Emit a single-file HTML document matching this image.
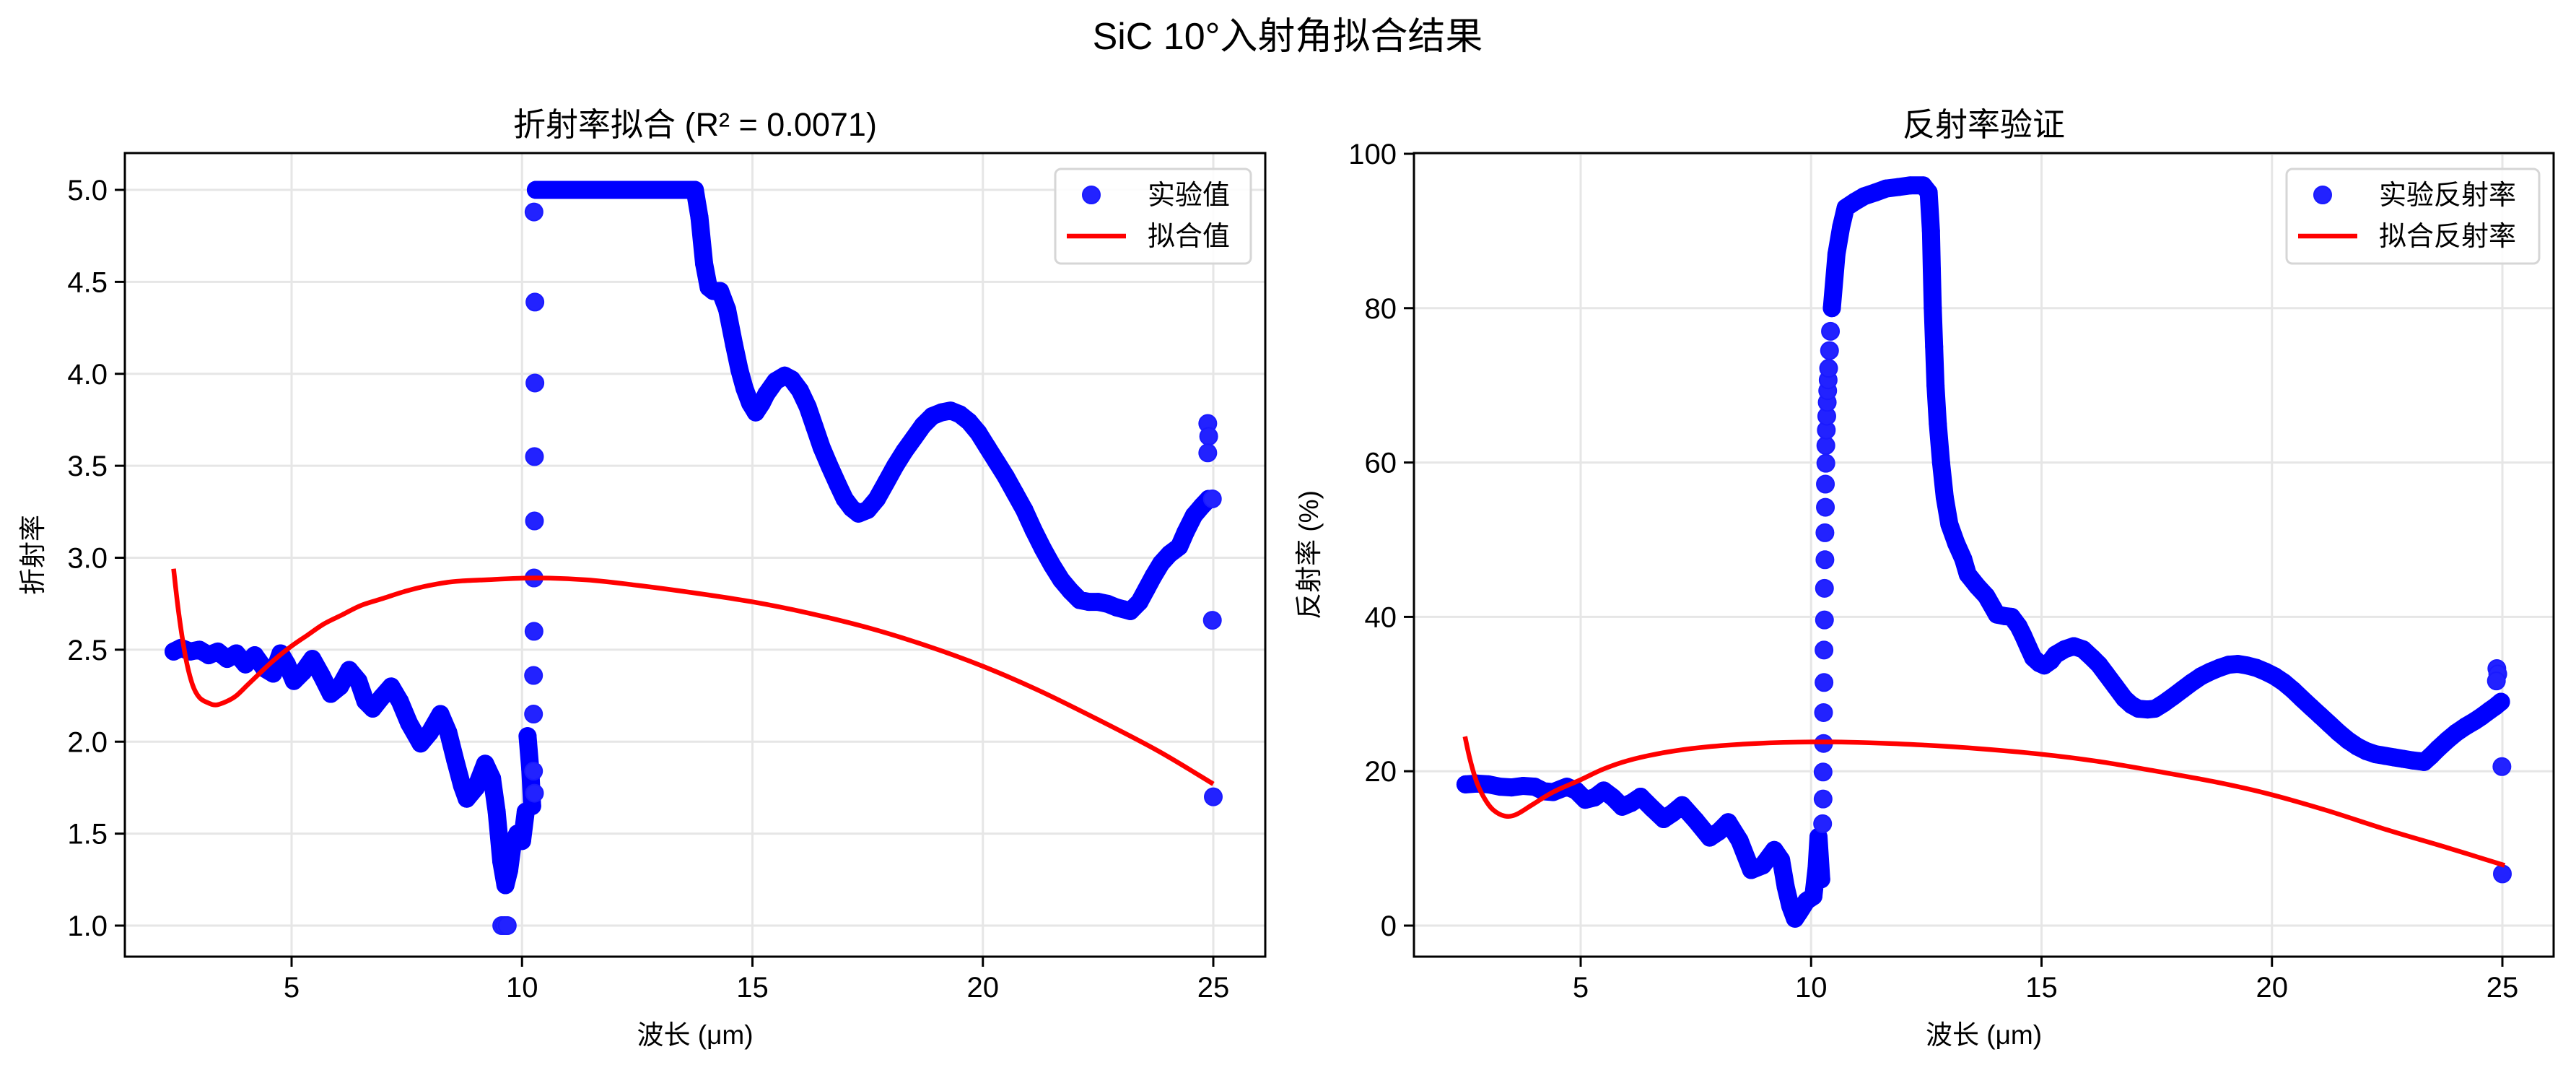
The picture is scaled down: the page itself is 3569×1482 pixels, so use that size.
<!DOCTYPE html>
<html><head><meta charset="utf-8">
<style>
html,body{margin:0;padding:0;background:#fff;}
svg{display:block;font-family:"Liberation Sans","Noto Sans CJK SC",sans-serif;}
</style></head>
<body>
<svg id="fig" xmlns="http://www.w3.org/2000/svg" width="3569" height="1482" viewBox="0 0 3569 1482">
<rect width="3569" height="1482" fill="#fff"/>
<text x="1784" y="68" font-size="52" text-anchor="middle">SiC 10°入射角拟合结果</text>
</svg>
<script>
// ---- Left chart data (refractive index) ----
const nExpX = [2.44,2.6,2.8,3.0,3.2,3.4,3.6,3.8,4.0,4.2,4.4,4.6,4.76,4.9,5.05,5.25,5.45,5.65,5.85,6.05,6.25,6.45,6.6,6.76,6.95,7.16,7.35,7.55,7.8,8.0,8.23,8.4,8.55,8.7,8.8,9.0,9.2,9.35,9.45,9.55,9.64,9.72,9.8,9.9,10.0,10.08,10.12,10.18,10.22,
10.3,10.6,10.9,11.2,11.5,11.8,12.1,12.4,12.7,13.0,13.3,13.6,13.75,13.85,13.95,14.05,14.15,14.3,14.45,14.6,14.72,14.83,14.95,15.07,15.2,15.3,15.5,15.7,15.85,16.03,16.2,16.35,16.5,16.67,16.85,17.0,17.15,17.3,17.5,17.7,17.9,18.1,18.3,18.5,18.7,18.9,19.1,19.3,19.5,19.7,19.9,20.1,20.3,20.5,20.7,20.9,21.1,21.3,21.5,21.7,21.9,22.1,22.3,22.5,22.7,22.9,23.05,23.2,23.4,23.55,23.7,23.87,24.05,24.26,24.4,24.58,24.75,24.9];
const nExpY = [2.49,2.51,2.49,2.50,2.47,2.49,2.45,2.48,2.42,2.47,2.40,2.37,2.48,2.42,2.33,2.38,2.45,2.36,2.26,2.30,2.39,2.33,2.22,2.18,2.24,2.30,2.22,2.10,1.99,2.05,2.15,2.05,1.90,1.76,1.69,1.75,1.88,1.80,1.62,1.35,1.22,1.30,1.45,1.50,1.46,1.62,2.03,1.85,1.65,
5.0,5.0,5.0,5.0,5.0,5.0,5.0,5.0,5.0,5.0,5.0,5.0,5.0,4.85,4.6,4.47,4.45,4.45,4.35,4.16,4.02,3.92,3.84,3.79,3.84,3.89,3.96,3.99,3.97,3.91,3.82,3.71,3.60,3.50,3.40,3.32,3.27,3.24,3.26,3.32,3.41,3.50,3.58,3.65,3.72,3.77,3.79,3.80,3.78,3.74,3.68,3.60,3.52,3.44,3.35,3.26,3.15,3.05,2.96,2.88,2.82,2.77,2.76,2.76,2.75,2.73,2.72,2.71,2.76,2.83,2.90,2.97,3.02,3.06,3.14,3.23,3.28,3.32];
const nIsoX = [9.56,9.62,9.68,10.25,10.25,10.25,10.26,10.26,10.27,10.27,10.28,10.28,10.26,10.27,24.88,24.9,24.88,24.98,24.98,25.0];
const nIsoY = [1.0,1.0,1.0,1.84,2.15,2.36,2.60,2.89,3.20,3.55,3.95,4.39,4.88,1.72,3.73,3.66,3.57,3.32,2.66,1.70];
const nFitX = [2.44,2.55,2.7,2.85,3.0,3.2,3.37,3.6,3.8,4.05,4.3,4.6,5.0,5.35,5.7,6.1,6.5,7.0,7.5,8.0,8.5,9.2,10.3,11.4,12.5,13.7,15.0,16.2,17.5,18.8,20.0,21.2,22.5,23.8,25.0];
const nFitY = [2.94,2.70,2.46,2.31,2.24,2.21,2.20,2.22,2.25,2.31,2.37,2.44,2.52,2.58,2.64,2.69,2.74,2.78,2.82,2.85,2.87,2.88,2.89,2.88,2.85,2.81,2.76,2.70,2.62,2.52,2.41,2.28,2.12,1.95,1.77];
const nTicksX = [5,10,15,20,25];
const nTicksY = [1.0,1.5,2.0,2.5,3.0,3.5,4.0,4.5,5.0];

// ---- Right chart data (reflectance %) ----
const rExpX = [2.5,2.75,3.0,3.25,3.5,3.75,4.0,4.2,4.4,4.7,4.9,5.1,5.3,5.5,5.7,5.9,6.1,6.3,6.55,6.8,7.0,7.2,7.5,7.8,8.0,8.2,8.45,8.7,8.95,9.2,9.35,9.45,9.55,9.65,9.75,9.9,10.05,10.12,10.16,10.22,
10.45,10.55,10.65,10.75,10.95,11.15,11.4,11.63,11.9,12.15,12.43,12.55,12.6,12.62,12.64,12.67,12.7,12.75,12.82,12.9,13.0,13.15,13.3,13.4,13.6,13.8,14.03,14.2,14.35,14.5,14.6,14.72,14.82,14.95,15.06,15.2,15.3,15.5,15.7,15.9,16.1,16.25,16.4,16.6,16.8,16.95,17.1,17.3,17.46,17.65,17.86,18.06,18.26,18.46,18.66,18.86,19.06,19.26,19.46,19.66,19.86,20.06,20.26,20.46,20.65,20.85,21.05,21.25,21.45,21.65,21.85,22.05,22.25,22.45,22.65,22.85,23.05,23.2,23.3,23.45,23.6,23.8,24.0,24.2,24.4,24.55,24.73,24.85,24.97];
const rExpY = [18.3,18.4,18.3,18.0,17.9,18.1,18.0,17.4,17.3,18.0,17.5,16.3,16.6,17.5,16.6,15.4,15.9,16.7,15.2,13.8,14.6,15.6,13.6,11.4,12.2,13.4,11.0,7.2,7.8,9.8,8.5,5.0,2.5,0.9,1.8,3.2,3.8,7.5,11.5,6.0,
80.0,87.0,90.5,93.0,93.8,94.5,95.0,95.5,95.7,95.9,95.9,95.0,90.0,85.0,80.0,75.0,70.0,65.0,60.0,55.5,52.0,49.5,47.5,45.5,44.0,42.7,40.3,40.1,40.0,38.8,37.6,36.0,34.7,34.0,33.7,34.3,35.1,35.8,36.2,35.8,34.7,33.8,32.6,31.0,29.4,28.6,28.1,28.0,28.1,28.8,29.7,30.6,31.5,32.3,32.9,33.4,33.8,33.9,33.7,33.4,32.9,32.3,31.5,30.5,29.4,28.3,27.2,26.1,25.0,24.0,23.2,22.6,22.2,22.0,21.8,21.6,21.4,21.3,21.2,22.0,22.9,24.0,25.0,25.8,26.5,27.1,27.9,28.4,29.0];
const rIsoX = [10.25,10.26,10.26,10.27,10.27,10.28,10.28,10.29,10.29,10.3,10.3,10.31,10.31,10.32,10.32,10.33,10.34,10.35,10.36,10.37,10.38,10.4,10.42,24.88,24.9,24.87,24.99,25.0];
const rIsoY = [13.2,16.4,19.9,23.6,27.6,31.5,35.7,39.6,43.7,47.4,50.9,54.2,57.2,59.9,62.2,64.2,66.0,67.8,69.3,70.7,72.2,74.5,77.0,33.3,32.6,31.7,20.6,6.7];
const rFitX = [2.49,2.6,2.75,2.92,3.1,3.35,3.6,3.96,4.4,5.0,5.5,6.04,6.8,7.64,8.8,10.03,11.2,12.43,13.7,15.0,16.2,17.4,18.7,19.9,21.2,22.5,23.8,25.05];
const rFitY = [24.5,21.5,18.5,16.4,15.0,14.2,14.4,15.7,17.3,18.9,20.3,21.4,22.4,23.1,23.6,23.8,23.7,23.4,22.9,22.2,21.3,20.1,18.7,17.1,14.9,12.4,10.1,7.8];
const rTicksX = [5,10,15,20,25];
const rTicksY = [0,20,40,60,80,100];

const NS = "http://www.w3.org/2000/svg";
const svg = document.getElementById('fig');
function mk(tag, attrs, parent){
  const e = document.createElementNS(NS, tag);
  for (const k in attrs) e.setAttribute(k, attrs[k]);
  (parent||svg).appendChild(e);
  return e;
}
function smoothPath(pts){
  let d = 'M' + pts[0][0].toFixed(1) + ' ' + pts[0][1].toFixed(1);
  for (let i = 0; i < pts.length - 1; i++){
    const p0 = pts[Math.max(0,i-1)], p1 = pts[i], p2 = pts[i+1], p3 = pts[Math.min(pts.length-1,i+2)];
    const c1x = p1[0] + (p2[0]-p0[0])/6, c1y = p1[1] + (p2[1]-p0[1])/6;
    const c2x = p2[0] - (p3[0]-p1[0])/6, c2y = p2[1] - (p3[1]-p1[1])/6;
    d += 'C' + c1x.toFixed(1) + ' ' + c1y.toFixed(1) + ' ' + c2x.toFixed(1) + ' ' + c2y.toFixed(1) + ' ' + p2[0].toFixed(1) + ' ' + p2[1].toFixed(1);
  }
  return d;
}

function drawChart(cfg){
  const {L,R,T,B,xmin,xmax,ymin,ymax,prefix} = cfg;
  const sx = v => L + (v - xmin) / (xmax - xmin) * (R - L);
  const sy = v => B - (v - ymin) / (ymax - ymin) * (B - T);
  const g = mk('g', {});
  
  
  cfg.ticksX.forEach(t => {
    const l = mk('line', {x1:sx(t), x2:sx(t), y1:T, y2:B, stroke:'#e6e6e6', 'stroke-width':3}, g);
    
    
  });
  cfg.ticksY.forEach(t => {
    const l = mk('line', {x1:L, x2:R, y1:sy(t), y2:sy(t), stroke:'#e6e6e6', 'stroke-width':3}, g);
    
    
  });
  const sg = mk('g', {fill:'#2222ff', stroke:'#1a1aff', 'stroke-width':2}, g);
  
  
  let d = '';
  for (let i = 0; i < cfg.ex.length; i++){
    const px = sx(cfg.ex[i]), py = sy(cfg.ey[i]);
    if (i > 0){
      const qx = sx(cfg.ex[i-1]), qy = sy(cfg.ey[i-1]);
      d += (Math.hypot(px-qx, py-qy) < 80 ? 'L' : 'M') + px.toFixed(1) + ' ' + py.toFixed(1);
    } else d += 'M' + px.toFixed(1) + ' ' + py.toFixed(1);
  }
  const band = mk('path', {d:d, fill:'none', stroke:'#0000ff', 'stroke-width':25, 'stroke-linecap':'round', 'stroke-linejoin':'round'}, sg);
  
  
  for (let i = 0; i < cfg.ex.length; i++){
    const c = mk('circle', {cx:sx(cfg.ex[i]), cy:sy(cfg.ey[i]), r:12.5, fill:'#0000ff', stroke:'none'}, sg);
    
    
  }
  for (let i = 0; i < cfg.ix.length; i++){
    const c = mk('circle', {cx:sx(cfg.ix[i]), cy:sy(cfg.iy[i]), r:12}, sg);
    
    
  }
  const fd = smoothPath(cfg.fx.map((x,i) => [sx(x), sy(cfg.fy[i])]));
  const fl = mk('path', {d:fd, fill:'none', stroke:'#ff0000', 'stroke-width':6.5, 'stroke-linejoin':'round'}, g);
  
  
  const fr = mk('rect', {x:L, y:T, width:R-L, height:B-T, fill:'none', stroke:'#000', 'stroke-width':3}, g);
  
  
  cfg.ticksX.forEach(t => {
    const l = mk('line', {x1:sx(t), x2:sx(t), y1:B, y2:B+14, stroke:'#000', 'stroke-width':3}, g);
    
    
    const tx = mk('text', {x:sx(t), y:B+56, 'font-size':40, 'text-anchor':'middle'}, g);
    tx.textContent = String(t);
    
    
  });
  cfg.ticksY.forEach(t => {
    const l = mk('line', {x1:L-14, x2:L, y1:sy(t), y2:sy(t), stroke:'#000', 'stroke-width':3}, g);
    
    
    const tx = mk('text', {x:L-24, y:sy(t)+14, 'font-size':40, 'text-anchor':'end'}, g);
    tx.textContent = cfg.yfmt(t);
    
    
  });
  const ti = mk('text', {x:(L+R)/2, y:T-24, 'font-size':45, 'text-anchor':'middle'}, g);
  ti.textContent = cfg.title;
  
  
  const xl = mk('text', {x:(L+R)/2, y:1446, 'font-size':37, 'text-anchor':'middle'}, g);
  xl.textContent = '波长 (μm)';
  
  
  const yl = mk('text', {x:cfg.ylx, y:(T+B)/2, 'font-size':37, 'text-anchor':'middle', transform:'rotate(-90 ' + cfg.ylx + ' ' + (T+B)/2 + ')'}, g);
  yl.textContent = cfg.ylabel;
  
  
  const lg = mk('g', {}, g);
  
  
  const lb = cfg.legX;
  mk('rect', {x:lb, y:234, width:R-20-lb, height:131, rx:8, fill:'#fff', 'fill-opacity':0.85, stroke:'#d6d6d6', 'stroke-width':3}, lg);
  const m = mk('circle', {cx:lb+50, cy:270, r:12, fill:'#2222ff', stroke:'#1a1aff', 'stroke-width':2}, lg);
  
  
  const ll = mk('line', {x1:lb+16, x2:lb+98, y1:327, y2:327, stroke:'#ff0000', 'stroke-width':6.5}, lg);
  
  
  const t1 = mk('text', {x:lb+128, y:283, 'font-size':38}, lg);
  t1.textContent = cfg.leg1;
  
  
  const t2 = mk('text', {x:lb+128, y:340, 'font-size':38}, lg);
  t2.textContent = cfg.leg2;
  
  
}

const lpx = (1681-404)/20, lpy = (1282-263)/4;
drawChart({prefix:'index', L:173, R:1753, T:212, B:1325,
  xmin:5-(404-173)/lpx, xmax:25+(1753-1681)/lpx, ymin:1-(1325-1282)/lpy, ymax:5+(263-212)/lpy,
  ex:nExpX, ey:nExpY, ix:nIsoX, iy:nIsoY, fx:nFitX, fy:nFitY,
  ticksX:nTicksX, ticksY:nTicksY, yfmt:t=>t.toFixed(1),
  title:'折射率拟合 (R² = 0.0071)', ylabel:'折射率', ylx:58,
  legX:1462, leg1:'实验值', leg2:'拟合值'});
const rpx = (3467-2190)/20, rpy = (1282-213)/100;
drawChart({prefix:'reflectance', L:1959, R:3538, T:212, B:1325,
  xmin:5-(2190-1959)/rpx, xmax:25+(3538-3467)/rpx, ymin:-(1325-1282)/rpy, ymax:100+(213-212)/rpy,
  ex:rExpX, ey:rExpY, ix:rIsoX, iy:rIsoY, fx:rFitX, fy:rFitY,
  ticksX:rTicksX, ticksY:rTicksY, yfmt:t=>String(t),
  title:'反射率验证', ylabel:'反射率 (%)', ylx:1826,
  legX:3168, leg1:'实验反射率', leg2:'拟合反射率'});
</script>
</body></html>
